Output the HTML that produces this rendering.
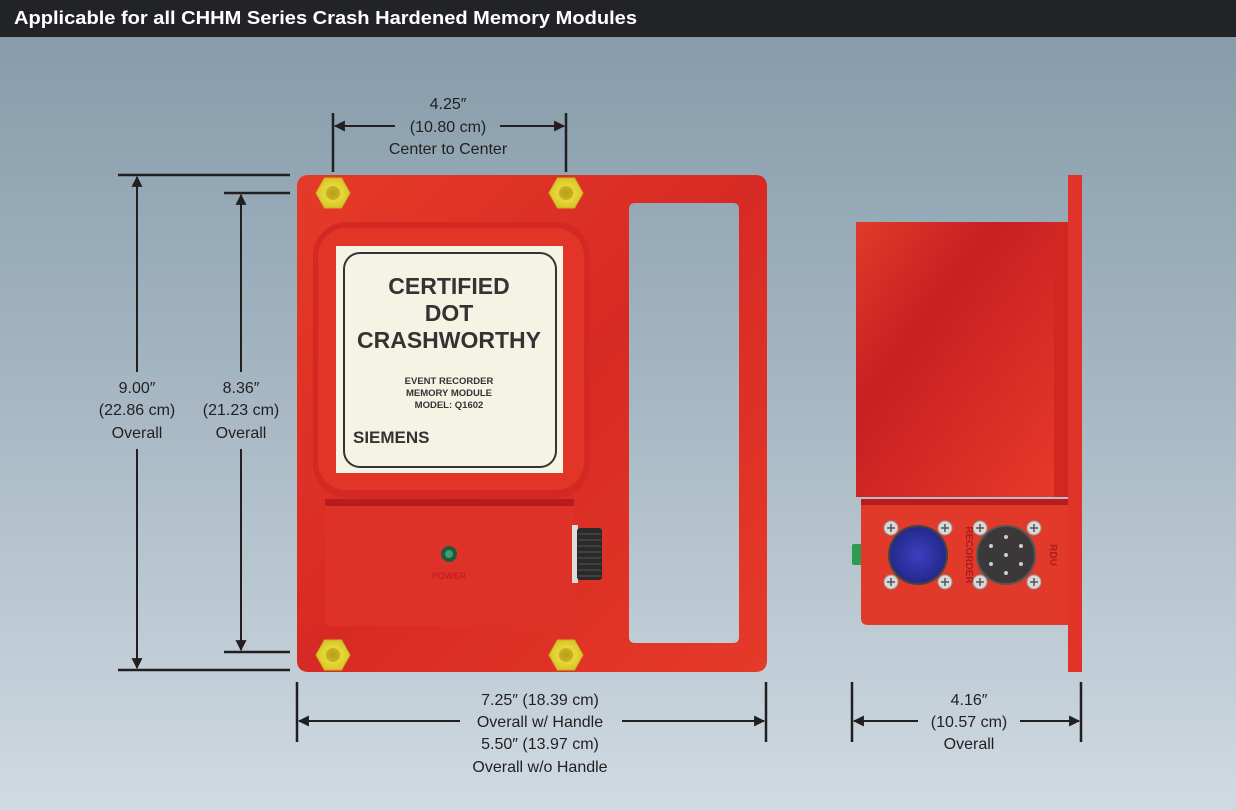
<!DOCTYPE html>
<html><head><meta charset="utf-8"><style>
html,body{margin:0;padding:0;width:1236px;height:810px;overflow:hidden}
svg{display:block}
text{font-family:"Liberation Sans",sans-serif}
</style></head><body>
<svg width="1236" height="810" viewBox="0 0 1236 810" xmlns="http://www.w3.org/2000/svg">
<defs>
<linearGradient id="bg" x1="0" y1="0" x2="0" y2="1">
<stop offset="0" stop-color="#8499a8"/><stop offset="0.5" stop-color="#a7b8c4"/><stop offset="1" stop-color="#d0dae1"/></linearGradient>
<linearGradient id="red" x1="0" y1="0" x2="1" y2="1">
<stop offset="0" stop-color="#e63a28"/><stop offset="0.5" stop-color="#d82a24"/><stop offset="1" stop-color="#e63a28"/></linearGradient>
<linearGradient id="red2" x1="0" y1="0" x2="1" y2="1">
<stop offset="0" stop-color="#e03b2a"/><stop offset="0.35" stop-color="#c81f22"/><stop offset="1" stop-color="#e8392a"/></linearGradient>
<radialGradient id="bolt"><stop offset="0" stop-color="#b39a10"/><stop offset="0.5" stop-color="#e8d83a"/><stop offset="1" stop-color="#d8c628"/></radialGradient>
<radialGradient id="blue"><stop offset="0" stop-color="#3b3fc0"/><stop offset="1" stop-color="#24288a"/></radialGradient>
<marker id="ah" viewBox="0 0 10 10" refX="9" refY="5" markerWidth="12" markerHeight="11" orient="auto-start-reverse" markerUnits="userSpaceOnUse"><path d="M0,0 L10,5 L0,10 z" fill="#231f20"/></marker>
<g id="bl"><polygon points="-17,0 -8.5,-15 8.5,-15 17,0 8.5,15 -8.5,15" fill="url(#bolt)" stroke="#c7b422" stroke-width="1"/><circle r="7" fill="#b8a01a" opacity="0.6"/></g>
<g id="sc"><circle r="7" fill="#d8d8d8" stroke="#999" stroke-width="1"/><path d="M-4,0H4M0,-4V4" stroke="#555" stroke-width="1.5"/></g>
</defs>
<rect width="1236" height="810" fill="url(#bg)"/>
<rect width="1236" height="37" fill="#222326"/>
<text x="14" y="24" fill="#fff" font-size="18" font-weight="bold" textLength="623" lengthAdjust="spacingAndGlyphs">Applicable for all CHHM Series Crash Hardened Memory Modules</text>

<path fill-rule="evenodd" fill="url(#red)" d="M309,175 H755 Q767,175 767,187 V660 Q767,672 755,672 H309 Q297,672 297,660 V187 Q297,175 309,175 Z M635,203 H733 Q739,203 739,209 V637 Q739,643 733,643 H635 Q629,643 629,637 V209 Q629,203 635,203 Z"/>
<rect x="313" y="222" width="277" height="276" rx="34" fill="#d42823"/>
<rect x="318" y="228" width="266" height="262" rx="28" fill="#e23528"/>
<rect x="336" y="246" width="227" height="227" fill="#f5f3e4"/>
<rect x="344" y="253" width="212" height="214" rx="16" fill="none" stroke="#333" stroke-width="2"/>
<g fill="#333" font-weight="bold" text-anchor="middle">
<text x="449" y="294" font-size="23">CERTIFIED</text>
<text x="449" y="321" font-size="23">DOT</text>
<text x="449" y="348" font-size="23">CRASHWORTHY</text>
<text x="449" y="384" font-size="9.5">EVENT RECORDER</text>
<text x="449" y="396" font-size="9.5">MEMORY MODULE</text>
<text x="449" y="408" font-size="9.5">MODEL: Q1602</text>
<text x="353" y="443" font-size="17" text-anchor="start">SIEMENS</text>
</g>
<rect x="325" y="499" width="249" height="127" rx="4" fill="#de3228"/>
<rect x="325" y="499" width="249" height="7" fill="#b81c1e"/>
<rect x="572" y="525" width="6" height="58" fill="#ddd"/>
<rect x="577" y="528" width="25" height="52" rx="3" fill="#2a2a2a"/>
<g stroke="#555" stroke-width="1"><path d="M578,534H601M578,540H601M578,546H601M578,552H601M578,558H601M578,564H601M578,570H601M578,576H601"/></g>
<circle cx="449" cy="554" r="8" fill="#1f5a3e"/><circle cx="449" cy="554" r="4" fill="#38a068"/>
<text x="449" y="579" font-size="9" font-weight="bold" fill="#c81e20" text-anchor="middle">POWER</text>
<use href="#bl" x="333" y="193"/><use href="#bl" x="566" y="193"/><use href="#bl" x="333" y="655"/><use href="#bl" x="566" y="655"/>

<rect x="1068" y="175" width="14" height="497" fill="#e0342a"/>
<rect x="856" y="222" width="202" height="275" fill="url(#red2)"/>
<rect x="1054" y="222" width="14" height="275" fill="#d22623"/>
<rect x="852" y="544" width="10" height="21" rx="2" fill="#2e9a52"/>
<path d="M861,499 H1068 V625 H868 Q861,625 861,618 Z" fill="#e23a2a"/>
<rect x="861" y="499" width="207" height="6" fill="#b81c1e"/>
<circle cx="918" cy="555" r="29" fill="url(#blue)" stroke="#444" stroke-width="2"/>
<circle cx="1006" cy="555" r="29" fill="#3a3838" stroke="#555" stroke-width="2"/>
<g fill="#ccc"><circle cx="1006" cy="555" r="2"/><circle cx="1006" cy="537" r="2"/><circle cx="1006" cy="573" r="2"/><circle cx="991" cy="546" r="2"/><circle cx="1021" cy="546" r="2"/><circle cx="991" cy="564" r="2"/><circle cx="1021" cy="564" r="2"/></g>
<use href="#sc" x="891" y="528"/><use href="#sc" x="945" y="528"/><use href="#sc" x="891" y="582"/><use href="#sc" x="945" y="582"/>
<use href="#sc" x="980" y="528"/><use href="#sc" x="1034" y="528"/><use href="#sc" x="980" y="582"/><use href="#sc" x="1034" y="582"/>
<text transform="translate(966,555) rotate(90)" font-size="10" font-weight="bold" fill="#b01a1c" text-anchor="middle">RECORDER</text>
<text transform="translate(1050,555) rotate(90)" font-size="10" font-weight="bold" fill="#b01a1c" text-anchor="middle">RDU</text>

<g stroke="#231f20" stroke-width="2.5" fill="none">
<path d="M333,113V172M566,113V172"/>
<path d="M118,175H290M224,193H290M118,670H290M224,652H290"/>
<path d="M297,682V742M766,682V742M852,682V742M1081,682V742"/>
</g>
<g stroke="#231f20" stroke-width="2" fill="none">
<path d="M335,126H395" marker-start="url(#ah)"/><path d="M500,126H564" marker-end="url(#ah)"/>
<path d="M137,177V372" marker-start="url(#ah)"/><path d="M137,449V668" marker-end="url(#ah)"/>
<path d="M241,195V372" marker-start="url(#ah)"/><path d="M241,449V650" marker-end="url(#ah)"/>
<path d="M299,721H460" marker-start="url(#ah)"/><path d="M622,721H764" marker-end="url(#ah)"/>
<path d="M854,721H918" marker-start="url(#ah)"/><path d="M1020,721H1079" marker-end="url(#ah)"/>
</g>
<g fill="#231f20" font-size="16" text-anchor="middle">
<text x="448" y="109">4.25″</text><text x="448" y="132">(10.80 cm)</text><text x="448" y="154">Center to Center</text>
<text x="137" y="393">9.00″</text><text x="137" y="415">(22.86 cm)</text><text x="137" y="438">Overall</text>
<text x="241" y="393">8.36″</text><text x="241" y="415">(21.23 cm)</text><text x="241" y="438">Overall</text>
<text x="540" y="705">7.25″ (18.39 cm)</text><text x="540" y="727">Overall w/ Handle</text><text x="540" y="749">5.50″ (13.97 cm)</text><text x="540" y="772">Overall w/o Handle</text>
<text x="969" y="705">4.16″</text><text x="969" y="727">(10.57 cm)</text><text x="969" y="749">Overall</text>
</g>
</svg>
</body></html>
